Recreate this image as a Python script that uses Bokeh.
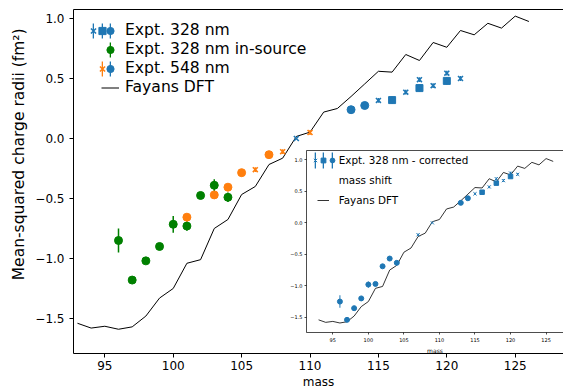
import numpy as np
from jinja2 import Template
from bokeh.plotting import figure
from bokeh.models import (Range1d, FixedTicker, CustomJSTickFormatter, LinearAxis,
                          Legend, LegendItem, Title)
from bokeh.embed import file_html
from bokeh.resources import INLINE
from bokeh.core.properties import value

# ---------------- data ----------------
dft_mass = list(range(93, 127))
dft_r2 = [-1.54, -1.58, -1.565, -1.59, -1.57, -1.48, -1.33, -1.25, -1.04, -1.01,
          -0.75, -0.675, -0.467, -0.40, -0.217, -0.164, 0.017, 0.053, 0.22, 0.25,
          0.35, 0.455, 0.56, 0.553, 0.70, 0.65, 0.80, 0.76, 0.90, 0.864,
          0.96, 0.92, 1.02, 0.975]

insrc_mass = [96, 97, 98, 99, 100, 101, 102, 103, 104]
insrc_r2 = [-0.85, -1.18, -1.02, -0.90, -0.715, -0.73, -0.475, -0.39, -0.49]
insrc_err = [0.10, 0.02, 0.02, 0.02, 0.07, 0.04, 0.02, 0.05, 0.04]

e548_circ_mass = [101, 103, 104, 105, 107]
e548_circ_r2 = [-0.656, -0.47, -0.406, -0.285, -0.135]
e548_circ_err = [0.02, 0.02, 0.02, 0.03, 0.03]
e548_x_mass = [106, 108, 110]
e548_x_r2 = [-0.26, -0.11, 0.05]
e548_x_err = [0.02, 0.02, 0.02]

e328_circ_mass = [113, 114]
e328_circ_r2 = [0.24, 0.275]
e328_circ_err = [0.02, 0.02]
e328_sq_mass = [116, 118, 120]
e328_sq_r2 = [0.32, 0.42, 0.48]
e328_sq_err = [0.03, 0.03, 0.03]
e328_x_mass = [109, 115, 117, 118, 119, 120, 121]
e328_x_r2 = [0.0, 0.317, 0.386, 0.49, 0.44, 0.544, 0.50]
e328_x_err = [0.0, 0.02, 0.02, 0.02, 0.02, 0.02, 0.02]

corr_circ_mass = [96, 97, 98, 99, 100, 101, 102, 103, 104, 113, 114]
corr_circ_r2 = [-1.25, -1.54, -1.355, -1.20, -0.98, -0.97, -0.69, -0.567, -0.635, 0.317, 0.39]
corr_circ_err = [0.10, 0.02, 0.02, 0.02, 0.05, 0.02, 0.02, 0.02, 0.02, 0.02, 0.02]
corr_x_mass = [107, 109, 115, 117, 118, 119, 120, 121]
corr_x_r2 = [-0.19, 0.0, 0.46, 0.57, 0.70, 0.67, 0.79, 0.77]
corr_x_err = [0.02, 0.0, 0.02, 0.02, 0.02, 0.02, 0.02, 0.02]
corr_sq_mass = [116, 118, 120]
corr_sq_r2 = [0.486, 0.63, 0.735]
corr_sq_err = [0.02, 0.02, 0.02]

x_ticks = [95, 100, 105, 110, 115, 120, 125]
y_ticks = [-1.5, -1.0, -0.5, 0.0, 0.5, 1.0]

BLUE = "#1f77b4"
ORANGE = "#ff7f0e"
GREEN = "#008000"
FONT = "DejaVu Sans"

yfmt_code = "return tick.toFixed(1).replace('-', '\\u2212');"


def style_axes(fig, tick_size, label_size, tick_out, lw, label_standoff, axis_standoff):
    for ax in fig.xaxis + fig.yaxis:
        ax.major_label_text_font = FONT
        ax.major_label_text_font_size = tick_size
        ax.major_label_text_color = "black"
        ax.axis_label_text_font = FONT
        ax.axis_label_text_font_size = label_size
        ax.axis_label_text_font_style = "normal"
        ax.axis_label_text_color = "black"
        ax.axis_line_color = "black"
        ax.axis_line_width = lw
        ax.major_tick_line_color = "black"
        ax.major_tick_line_width = lw
        ax.major_tick_out = tick_out
        ax.major_tick_in = 0
        ax.minor_tick_line_color = None
        ax.major_label_standoff = label_standoff
        ax.axis_label_standoff = axis_standoff
    fig.xaxis[0].ticker = FixedTicker(ticks=x_ticks)
    fig.yaxis[0].ticker = FixedTicker(ticks=y_ticks)
    fig.yaxis[0].formatter = CustomJSTickFormatter(code=yfmt_code)
    fig.xgrid.visible = False
    fig.ygrid.visible = False
    fig.outline_line_color = None
    top = LinearAxis(ticker=FixedTicker(ticks=[]), major_tick_out=0, major_tick_in=0,
                     minor_tick_out=0, minor_tick_in=0, major_label_standoff=0,
                     axis_label_standoff=0, axis_line_color="black", axis_line_width=lw)
    fig.add_layout(top, "above")


def errbar(fig, m, r, e, color, w):
    r = np.array(r, dtype=float)
    e = np.array(e, dtype=float)
    return fig.vbar(x=m, bottom=r - e, top=r + e, width=w, fill_color=color, line_color=None)


def add_legend(fig, entries, vx, vy, gw, gh, font_size, standoff=5):
    items = [LegendItem(label=value(lbl), renderers=rs) for lbl, rs in entries]
    leg = Legend(items=items, location=(vx, vy), glyph_width=gw, glyph_height=gh,
                 label_height=gh, label_width=0, padding=0, spacing=0, margin=0,
                 label_standoff=standoff, border_line_alpha=0, background_fill_alpha=0,
                 label_text_font=FONT, label_text_font_size=font_size,
                 label_text_color="black")
    fig.add_layout(leg)


# ---------------- main figure ----------------
p = figure(frame_width=490, frame_height=344, output_backend="svg", toolbar_location=None,
           x_range=Range1d(92.71, 128.53), y_range=Range1d(-1.792, 1.075),
           min_border_left=73, min_border_right=0, min_border_top=9, min_border_bottom=0,
           name="main_fig")
p.background_fill_color = "white"
p.border_fill_color = "white"
p.xaxis.axis_label = "mass"
style_axes(p, "12px", "12px", 4, 1, 5, 8)
p.xaxis.major_label_standoff = 3
p.xaxis.axis_label_standoff = 2

ytitle = Title(text="Mean-squared charge radii (fm\u00b2)", align="right", offset=19,
               vertical_align="middle", standoff=8, text_font=FONT,
               text_font_size="15.5px", text_font_style="normal", text_color="black")
p.add_layout(ytitle, "left")

r_line = p.line(dft_mass, dft_r2, line_color="black", line_width=1)

EW = 0.11
eb_bc = errbar(p, e328_circ_mass, e328_circ_r2, e328_circ_err, BLUE, EW)
errbar(p, e328_sq_mass, e328_sq_r2, e328_sq_err, BLUE, EW)
errbar(p, e328_x_mass, e328_x_r2, e328_x_err, BLUE, EW)
r_bc = p.scatter(e328_circ_mass, e328_circ_r2, marker="circle", size=8, color=BLUE)
r_bs = p.scatter(e328_sq_mass, e328_sq_r2, marker="square", size=7, color=BLUE)
r_bx = p.scatter(e328_x_mass, e328_x_r2, marker="x", size=7, line_color=BLUE, line_width=1.6)

eb_g = errbar(p, insrc_mass, insrc_r2, insrc_err, GREEN, EW)
r_is = p.scatter(insrc_mass, insrc_r2, marker="circle", size=8, color=GREEN)

errbar(p, e548_circ_mass, e548_circ_r2, e548_circ_err, ORANGE, EW)
eb_o = errbar(p, e548_x_mass, e548_x_r2, e548_x_err, ORANGE, EW)
r_oc = p.scatter(e548_circ_mass, e548_circ_r2, marker="circle", size=8, color=ORANGE)
r_ox = p.scatter(e548_x_mass, e548_x_r2, marker="x", size=7, line_color=ORANGE, line_width=1.6)

blank = p.scatter(x=[], y=[], marker="circle", size=0, fill_alpha=0, line_alpha=0)

GH = 19
VY = 256.5
LF = "15.6px"
add_legend(p, [(" ", [eb_bc]), (" ", [blank]), (" ", [blank]), (" ", [blank])], 19.3, VY, 2, GH, LF)
add_legend(p, [(" ", [eb_bc]), (" ", [blank]), (" ", [eb_o]), (" ", [blank])], 27.5, VY, 2, GH, LF)
add_legend(p, [(" ", [eb_bc]), (" ", [eb_g]), (" ", [eb_bc]), (" ", [blank])], 36, VY, 2, GH, LF)
add_legend(p, [(" ", [r_bx]), (" ", [blank]), (" ", [blank]), (" ", [blank])], 11.3, VY, 18, GH, LF)
add_legend(p, [(" ", [r_bs]), (" ", [blank]), (" ", [r_ox]), (" ", [blank])], 19.5, VY, 18, GH, LF)
add_legend(p, [("Expt. 328 nm", [r_bc]), ("Expt. 328 nm in-source", [r_is]),
               ("Expt. 548 nm", [r_bc]), ("Fayans DFT", [r_line])], 28, VY, 18, GH, LF, 6)

# ---------------- inset figure ----------------
inset = figure(frame_width=257, frame_height=182, output_backend="svg", toolbar_location=None,
               x_range=Range1d(91.3, 127.45), y_range=Range1d(-1.741, 1.148),
               min_border_left=22, min_border_right=0, min_border_top=2, min_border_bottom=0,
               name="inset_fig")
inset.background_fill_color = "white"
inset.border_fill_color = None
inset.xaxis.axis_label = "mass"
style_axes(inset, "5px", "6px", 2, 0.7, 2, 2)
inset.xaxis.major_label_standoff = 3

ri_line = inset.line(dft_mass, dft_r2, line_color="black", line_width=0.8)
IEW = 0.14
ieb = errbar(inset, corr_circ_mass, corr_circ_r2, corr_circ_err, BLUE, IEW)
errbar(inset, corr_sq_mass, corr_sq_r2, corr_sq_err, BLUE, IEW)
errbar(inset, corr_x_mass, corr_x_r2, corr_x_err, BLUE, IEW)
ri_c = inset.scatter(corr_circ_mass, corr_circ_r2, marker="circle", size=5, color=BLUE)
ri_s = inset.scatter(corr_sq_mass, corr_sq_r2, marker="square", size=4.5, color=BLUE)
ri_x = inset.scatter(corr_x_mass, corr_x_r2, marker="x", size=4.5, line_color=BLUE, line_width=1)

iblank = inset.scatter(x=[], y=[], marker="circle", size=0, fill_alpha=0, line_alpha=0)

IGH = 20
IVY = 122.4
ILF = "10.4px"
add_legend(inset, [(" ", [ieb]), (" ", [iblank]), (" ", [iblank])], 8, IVY, 2, IGH, ILF)
add_legend(inset, [(" ", [ieb]), (" ", [iblank]), (" ", [iblank])], 16.3, IVY, 2, IGH, ILF)
add_legend(inset, [(" ", [ieb]), (" ", [iblank]), (" ", [iblank])], 24.7, IVY, 2, IGH, ILF)
add_legend(inset, [(" ", [ri_x]), (" ", [iblank]), (" ", [iblank])], 3, IVY, 12, IGH, ILF)
add_legend(inset, [(" ", [ri_s]), (" ", [iblank]), (" ", [ri_line])], 11.3, IVY, 12, IGH, ILF)
add_legend(inset, [("Expt. 328 nm - corrected", [ri_c]), ("mass shift", [iblank]),
                   ("Fayans DFT", [iblank])], 19.7, IVY, 12, IGH, ILF, 1)

PAGE = Template("""{% extends base %}
{% block preamble %}<style>html, body { margin: 0; padding: 0; overflow: hidden; }</style>{% endblock %}
{% block contents %}{% from macros import embed %}
<div style="position: relative; width: 563px; height: 390px; overflow: hidden;">
<div style="position: absolute; left: 0px; top: 0px;">{{ embed(roots.main_fig) }}</div>
<div style="position: absolute; left: {{ inset_left }}px; top: {{ inset_top }}px;">{{ embed(roots.inset_fig) }}</div>
</div>
{% endblock %}""")

html = file_html([p, inset], INLINE, template=PAGE,
                 template_variables={"inset_left": 284, "inset_top": 148})
with open("out.html", "w", encoding="utf-8") as f:
    f.write(html)
